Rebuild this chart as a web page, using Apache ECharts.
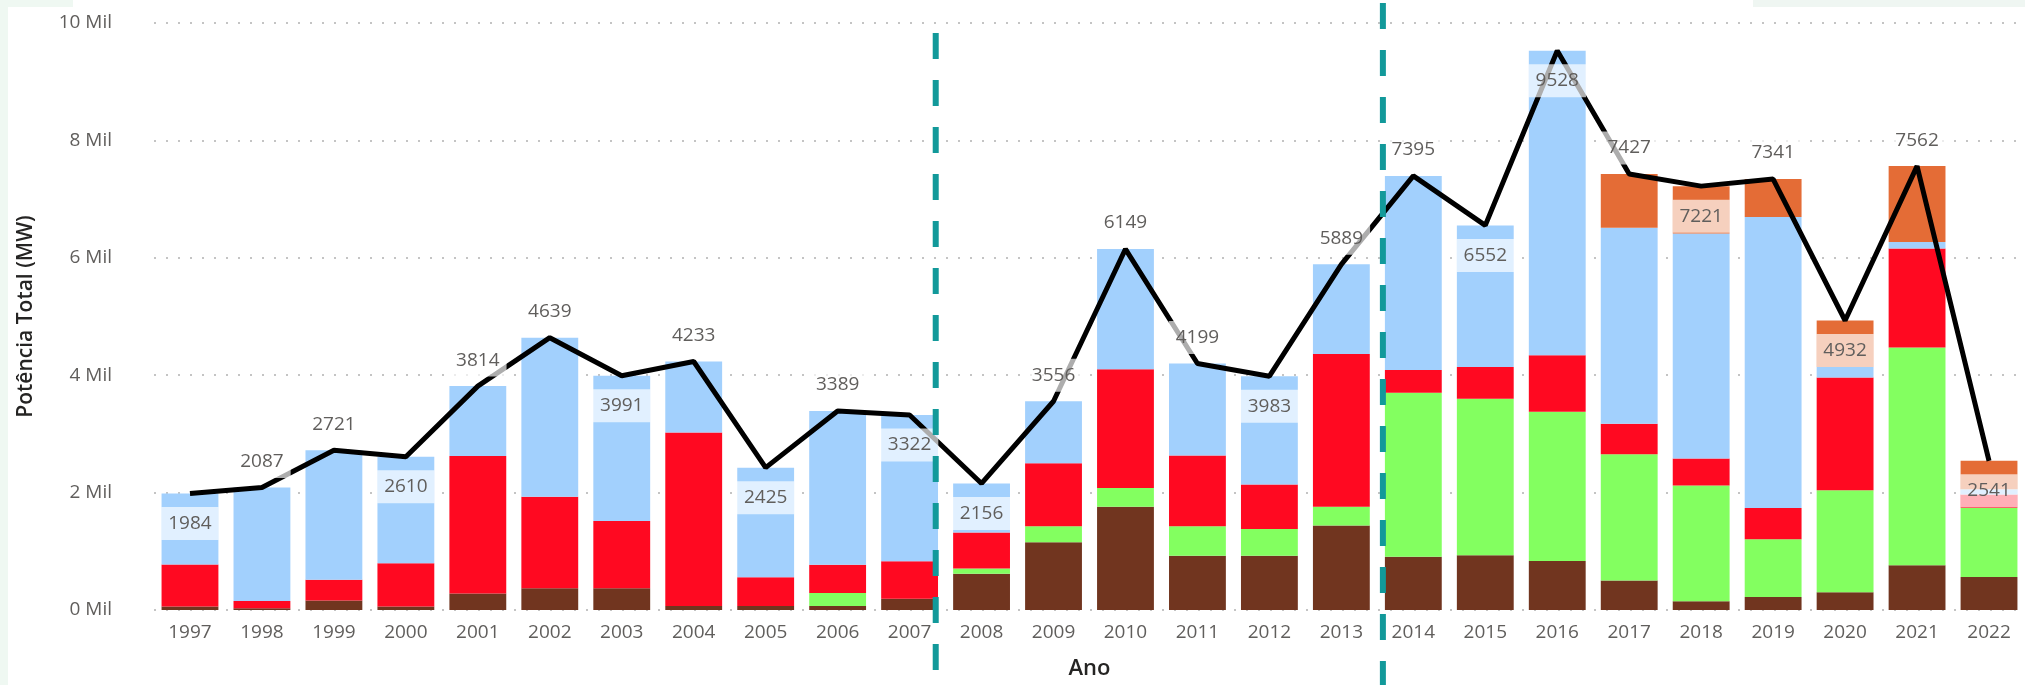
<!DOCTYPE html>
<html>
<head>
<meta charset="utf-8">
<script src="https://cdn.jsdelivr.net/npm/echarts@6/dist/echarts.min.js"></script>
<style>
  html, body { margin: 0; padding: 0; background: #fff; }
  #chart { width: 2025px; height: 685px; }
</style>
</head>
<body>
<div id="chart"></div>
<script>
var anos = ['1997', '1998', '1999', '2000', '2001', '2002', '2003', '2004', '2005', '2006', '2007', '2008', '2009',
  '2010', '2011', '2012', '2013', '2014', '2015', '2016', '2017', '2018', '2019', '2020', '2021', '2022'];

// potência por fonte (MW), de baixo para cima na pilha
var biomassa = [60, 30, 163, 60, 281, 370, 370, 70, 70, 70, 190, 619, 1153,
  1759, 924, 924, 1441, 909, 931, 835, 503, 148, 222, 303, 761, 562];
var eolica = [0, 0, 0, 0, 0, 0, 0, 0, 0, 220, 0, 89, 273,
  318, 502, 458, 318, 2794, 2668, 2543, 2150, 1975, 983, 1737, 3711, 1180];
var fossil = [716, 125, 354, 738, 2343, 1559, 1145, 2953, 490, 480, 640, 612, 1072,
  2025, 1205, 754, 2602, 384, 540, 961, 520, 460, 532, 1922, 1685, 225];
var hidrica = [1208, 1932, 2204, 1812, 1190, 2710, 2476, 1210, 1865, 2619, 2492, 836, 1058,
  2047, 1568, 1847, 1528, 3308, 2413, 5189, 3338, 3832, 4959, 177, 111, 90];
var solar = [0, 0, 0, 0, 0, 0, 0, 0, 0, 0, 0, 0, 0,
  0, 0, 0, 0, 0, 0, 0, 916, 806, 645, 793, 1294, 484];

// total anual (linha) e onde fica o rótulo: T = acima, B = abaixo
var total = [1984, 2087, 2721, 2610, 3814, 4639, 3991, 4233, 2425, 3389, 3322, 2156, 3556,
  6149, 4199, 3983, 5889, 7395, 6552, 9528, 7427, 7221, 7341, 4932, 7562, 2541];
var posRotulo = ['B', 'T', 'T', 'B', 'T', 'T', 'B', 'T', 'B', 'T', 'B', 'B', 'T',
  'T', 'T', 'B', 'T', 'T', 'B', 'B', 'T', 'B', 'T', 'B', 'T', 'B'];

var yTicks = [0, 2000, 4000, 6000, 8000, 10000];

// divisórias tracejadas (posição em índice de categoria, topo em px)
var divisorias = [10.363, 16.577];
var divisoriaTopo = [33, 3];

var fonte = "'Segoe UI', 'Open Sans', sans-serif";
var cinza = '#605e5c';

var chart = echarts.init(document.getElementById('chart'));

function barra(nome, dados, cor) {
  return {
    name: nome,
    type: 'bar',
    stack: 'total',
    data: dados,
    barCategoryGap: '21%',
    itemStyle: { color: cor },
    emphasis: { disabled: true }
  };
}

var pontos = total.map(function (v, i) {
  var embaixo = posRotulo[i] === 'B';
  return {
    value: v,
    label: {
      position: embaixo ? 'bottom' : 'top',
      distance: embaixo ? 13 : 9
    }
  };
});

var series = [
  barra('Biomassa', biomassa, '#71351f'),
  barra('Eólica', eolica, '#83ff60'),
  barra('Fóssil', fossil, '#ff0921'),
  barra('Hídrica', hidrica, '#a2d0fd'),
  barra('Solar', solar, '#e46c36'),
  {
    name: 'Total',
    type: 'line',
    data: pontos,
    symbol: 'circle',
    symbolSize: 1,
    showSymbol: true,
    showAllSymbol: true,
    z: 5,
    itemStyle: { color: 'rgba(0,0,0,0)' },
    lineStyle: { color: '#000', width: 5 },
    label: {
      show: true,
      color: cinza,
      fontFamily: fonte,
      fontSize: 19,
      backgroundColor: 'rgba(255,255,255,0.68)',
      padding: [7, 7, 7, 7]
    },
    labelLayout: { hideOverlap: false }
  }
];

divisorias.forEach(function (x, i) {
  series.push({
    type: 'line',
    xAxisIndex: 1,
    yAxisIndex: 1,
    symbol: 'none',
    clip: false,
    z: 10,
    data: [[x, divisoriaTopo[i]], [x, 685]],
    lineStyle: { color: '#12999a', width: 6, type: [26, 21] }
  });
});

var option = {
  animation: false,
  backgroundColor: '#fff',
  graphic: [
    { type: 'rect', shape: { x: 0, y: 0, width: 8, height: 685 }, style: { fill: '#eff8f2' }, z: -1 },
    { type: 'rect', shape: { x: 0, y: 0, width: 73, height: 7 }, style: { fill: '#eff8f2' }, z: -1 },
    { type: 'rect', shape: { x: 1753, y: 0, width: 272, height: 7 }, style: { fill: '#eff6f2' }, z: -1 }
  ],
  grid: [
    { left: 154, width: 1885, top: 23, bottom: 69 },
    { left: 154, width: 1885, top: 0, bottom: 0 }
  ],
  xAxis: [
    {
      type: 'category',
      data: anos,
      name: 'Ano',
      nameLocation: 'middle',
      nameGap: 48,
      nameTextStyle: { color: '#252423', fontFamily: fonte, fontSize: 22, fontWeight: 600 },
      axisLine: { show: false },
      axisTick: { show: false },
      axisLabel: { color: cinza, fontFamily: fonte, fontSize: 19, margin: 13 }
    },
    { type: 'value', gridIndex: 1, min: -0.5, max: 25.5, show: false }
  ],
  yAxis: [
    {
      type: 'value',
      min: 0,
      max: 10000,
      interval: 2000,
      name: 'Potência Total (MW)',
      nameLocation: 'middle',
      nameGap: 117,
      nameTextStyle: { color: '#252423', fontFamily: fonte, fontSize: 21, fontWeight: 600 },
      axisLine: { show: false },
      axisTick: { show: false },
      axisLabel: {
        color: cinza,
        fontFamily: fonte,
        fontSize: 19,
        margin: 42,
        formatter: function (v) {
          return yTicks.indexOf(v) >= 0 ? (v / 1000) + ' Mil' : '';
        }
      },
      splitLine: { lineStyle: { color: '#c4c4c4', width: 2, type: [2, 10] } }
    },
    { type: 'value', gridIndex: 1, min: 0, max: 685, inverse: true, show: false }
  ],
  series: series
};

chart.setOption(option);
</script>
</body>
</html>
